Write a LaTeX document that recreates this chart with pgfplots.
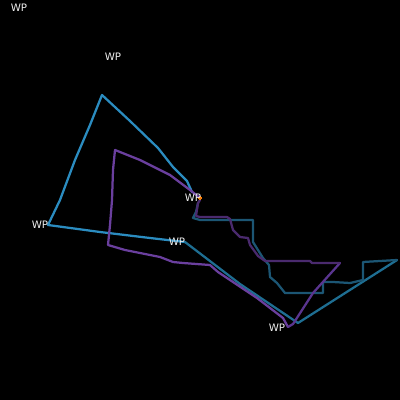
\documentclass[border=0pt]{standalone}
\usepackage{pgfplots}
\pgfplotsset{compat=1.18}
\usepackage{fontspec}
\setmainfont{DejaVu Sans}
\definecolor{cblue}{HTML}{2B8CC0}
\definecolor{cteal}{HTML}{1E6E92}
\definecolor{cdteal}{HTML}{1C5674}
\definecolor{cpurp}{HTML}{6A3F9E}
\definecolor{cmpurp}{HTML}{5A3590}
\definecolor{cdpurp}{HTML}{4A2A6E}
\definecolor{clab}{HTML}{F0F0F0}
\begin{document}
\begin{tikzpicture}
\fill[black] (0,0) rectangle (10cm,10cm);
\begin{axis}[
  at={(0,0)}, anchor=south west,
  scale only axis, width=10cm, height=10cm,
  xmin=0, xmax=400, ymin=0, ymax=400, y dir=reverse,
  hide axis, clip=true,
  every axis plot/.append style={line width=1.6pt, line join=round, line cap=round},
]
% flight A
\addplot[cblue] coordinates {(192,192) (187,181) (173,167) (158,148) (130,121) (102,95) (90,125) (75,160) (60,200) (48,225) (100,232) (150,238) (185,242)};
\addplot[cteal] coordinates {(185,242) (240,284) (298,323) (397,260)};
\addplot[cdteal] coordinates {(397,260) (363,262) (363,280) (350,283) (333,282) (323,282) (323,293) (285,293) (277,283) (270,277) (269,265) (263,258) (258,250) (253,242) (253,220) (200,220) (193,218) (196,212) (198,203)};
% flight B
\addplot[cpurp] coordinates {(200,198) (190,190) (170,175) (140,160) (120,152) (115,150) (113,170) (112,200) (110,225) (108,245) (125,250) (160,257) (173,262) (183,263) (210,265) (218,272) (257,298) (283,318) (288,327)};
\addplot[cmpurp] coordinates {(288,327) (293,324) (313,293) (340,263)};
\addplot[cdpurp] coordinates {(340,263) (312,263) (310,261) (265,261) (258,256) (250,245) (248,238) (240,237) (233,230) (230,219) (227,217) (200,217) (196,216) (198,203) (200,200)};
\addplot[only marks, mark=*, mark size=0.8pt, color=orange, line width=0pt] coordinates {(200,198)};
% labels
\addplot[only marks, mark=none, nodes near coords={WP}, nodes near coords align={center},
  every node near coord/.style={text=clab, font=\fontsize{7.3}{8}\selectfont, inner sep=0pt}]
  coordinates {(19,8) (113,57) (40,225) (193,198) (177,242) (277,328)};
\end{axis}
\end{tikzpicture}
\end{document}
